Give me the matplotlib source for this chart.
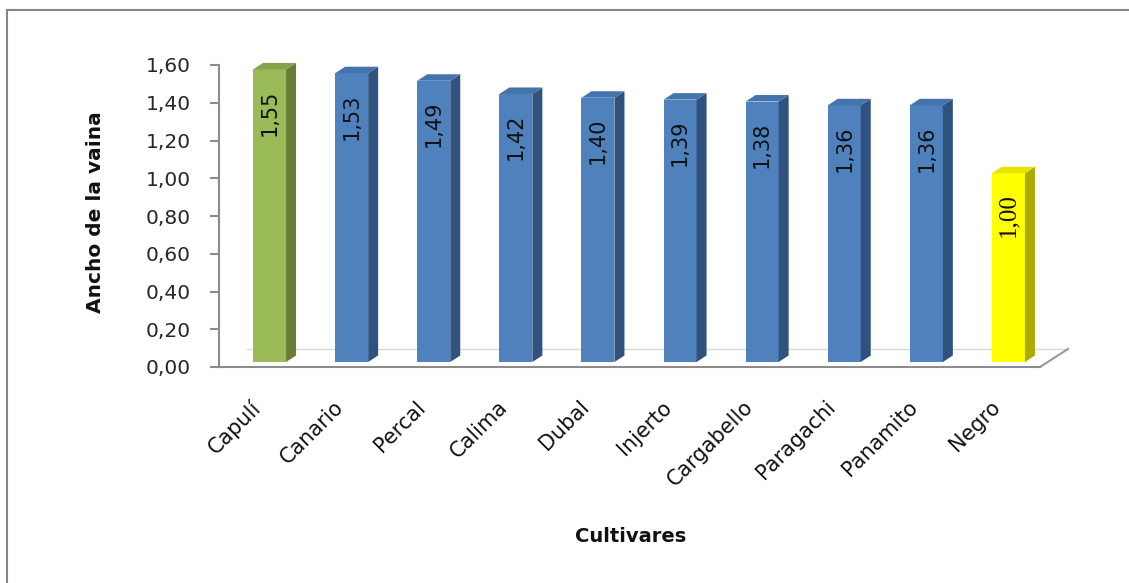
import matplotlib

matplotlib.use("Agg")
import matplotlib.pyplot as plt
from matplotlib.patches import Polygon, Rectangle

# data
CULTIVARES = [
    "Capulí", "Canario", "Percal", "Calima", "Dubal",
    "Injerto", "Cargabello", "Paragachi", "Panamito", "Negro",
]
ANCHO = [1.55, 1.53, 1.49, 1.42, 1.40, 1.39, 1.38, 1.36, 1.36, 1.00]
Y_TICKS = [0.0, 0.2, 0.4, 0.6, 0.8, 1.0, 1.2, 1.4, 1.6]

# colour of each bar: front, side, top
GREEN = ("#9BBB59", "#677D36", "#86A44A")
BLUE = ("#4F81BD", "#30527F", "#4573AB")
YELLOW = ("#FFFF00", "#ACAC00", "#E4E400")
BAR_STYLE = [GREEN] + [BLUE] * 8 + [YELLOW]

W, H = 1129, 583
AX_L, AX_R, AX_B, AX_T = 219, 1040, 367, 65
px_x = (AX_R - AX_L) / len(CULTIVARES)
px_y = (AX_B - AX_T) / 1.6


def fmt(v):
    return f"{v:.2f}".replace(".", ",")


fig = plt.figure(figsize=(W / 100, H / 100), dpi=100)
ax = fig.add_axes([AX_L / W, 1 - AX_B / H, (AX_R - AX_L) / W, (AX_B - AX_T) / H])
ax.set_xlim(-0.5, len(CULTIVARES) - 0.5)
ax.set_ylim(0, 1.6)

# pseudo 3D offsets (in data units)
bar_w = 33 / px_x
shift_x = 9.5 / px_x
shift_y = 5 / px_y
depth_x = 10 / px_x
depth_y = 6.5 / px_y
floor_x = 28 / px_x
floor_y = 18 / px_y

# floor
x0, x1 = -0.5, len(CULTIVARES) - 0.5
floor = Polygon(
    [(x0, 0), (x1, 0), (x1 + floor_x, floor_y), (x0 + floor_x, floor_y)],
    closed=True, facecolor="white", edgecolor="none",
    clip_on=False, zorder=1,
)
ax.add_patch(floor)
ax.plot([x0 + floor_x, x1 + floor_x], [floor_y, floor_y], color="#D9D9D9",
        lw=1.0, clip_on=False, zorder=1.5)
ax.plot([x1, x1 + floor_x], [0, floor_y], color="#9A9A9A", lw=1.5,
        clip_on=False, zorder=2)

xs = list(range(len(CULTIVARES)))
fronts = [s[0] for s in BAR_STYLE]
ax.bar([x + shift_x for x in xs], ANCHO, width=bar_w, bottom=shift_y,
       color=fronts, edgecolor="none", clip_on=False, zorder=3)

for x, v, style in zip(xs, ANCHO, BAR_STYLE):
    xl = x + shift_x - bar_w / 2
    xr = x + shift_x + bar_w / 2
    top = v + shift_y
    side = Polygon(
        [(xr, shift_y), (xr + depth_x, shift_y + depth_y),
         (xr + depth_x, top + depth_y), (xr, top)],
        closed=True, facecolor=style[1], edgecolor="none",
        clip_on=False, zorder=3,
    )
    cap = Polygon(
        [(xl, top), (xr, top), (xr + depth_x, top + depth_y),
         (xl + depth_x, top + depth_y)],
        closed=True, facecolor=style[2], edgecolor="none",
        clip_on=False, zorder=3,
    )
    ax.add_patch(side)
    ax.add_patch(cap)

    if style is YELLOW:
        fam, size = "Liberation Serif", 18
    else:
        fam, size = "DejaVu Sans", 15
    ax.text(x + shift_x, top - 20 / px_y, fmt(v), rotation=90,
            ha="center", va="top", fontsize=size, family=fam,
            color="#111111", zorder=4)

# axes styling
for s in ("top", "right"):
    ax.spines[s].set_visible(False)
for s in ("left", "bottom"):
    ax.spines[s].set_color("#8C8C8C")
    ax.spines[s].set_linewidth(1.5)

ax.set_yticks(Y_TICKS)
ax.set_yticklabels([fmt(t) for t in Y_TICKS])
ax.tick_params(axis="y", direction="out", length=6.5, width=1.5,
               color="#8C8C8C", pad=14, labelsize=14.5, labelcolor="#262626")

ax.set_xticks([x + shift_x - 4.5 / px_x for x in xs])
ax.set_xticklabels(CULTIVARES, rotation=45, ha="right", va="top")
ax.tick_params(axis="x", length=0, pad=21.5, labelsize=15,
               labelcolor="#111111")

ax.set_ylabel("Ancho de la vaina", fontsize=14.5, fontweight="bold",
              color="#111111")
ax.yaxis.set_label_coords((105 - AX_L) / (AX_R - AX_L), 0.513)
ax.set_xlabel("Cultivares", fontsize=14, fontweight="bold", color="#111111")
ax.xaxis.set_label_coords((631 - AX_L) / (AX_R - AX_L),
                          (AX_B - 527) / (AX_B - AX_T))

# chart area border (runs off the right and bottom of the picture)
fig.add_artist(Rectangle((7 / W, -0.05), 1.1, 1 - 10 / H + 0.05,
                         transform=fig.transFigure, fill=False,
                         edgecolor="#868686", lw=1.5))

fig.savefig("out.png", dpi=100, facecolor="white")
